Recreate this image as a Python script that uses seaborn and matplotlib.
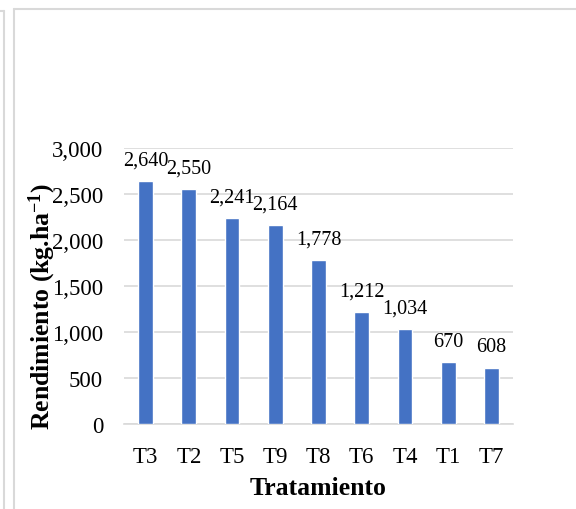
import matplotlib
matplotlib.use("Agg")
import matplotlib.pyplot as plt
import seaborn as sns
import pandas as pd
from matplotlib.lines import Line2D

tratamientos = ["T3", "T2", "T5", "T9", "T8", "T6", "T4", "T1", "T7"]
rendimiento = [2640, 2550, 2241, 2164, 1778, 1212, 1034, 670, 608]
yticks = [0, 500, 1000, 1500, 2000, 2500, 3000]

sns.set_theme(style="white")
plt.rcParams["font.family"] = ["Liberation Serif", "DejaVu Serif"]
plt.rcParams["text.color"] = "black"
plt.rcParams["axes.labelcolor"] = "black"
plt.rcParams["mathtext.fontset"] = "custom"
plt.rcParams["mathtext.rm"] = "Liberation Serif"
plt.rcParams["mathtext.bf"] = "Liberation Serif:bold"
plt.rcParams["mathtext.it"] = "Liberation Serif:italic"

df = pd.DataFrame({"Tratamiento": tratamientos, "Rendimiento": rendimiento})

fig = plt.figure(figsize=(5.76, 5.10), dpi=100)
ax = fig.add_axes([0.2153, 0.1667, 0.6753, 0.5412])

sns.barplot(data=df, x="Tratamiento", y="Rendimiento", order=tratamientos,
            color="#4472C4", saturation=1, width=0.34, ax=ax, zorder=3)

ax.set_ylim(0, 3000)
ax.set_xlim(-0.5, len(tratamientos) - 0.5)
ax.set_yticks(yticks)
ax.set_yticklabels([f"{v:,}" for v in yticks])
ax.yaxis.grid(True, color="#d9d9d9", linewidth=1.2, zorder=0)
ax.set_axisbelow(True)
for s in ["top", "right", "left"]:
    ax.spines[s].set_visible(False)
ax.spines["bottom"].set_color("#d9d9d9")
ax.spines["bottom"].set_linewidth(1.2)
ax.tick_params(axis="both", length=0, labelsize=16.5, colors="black")
ax.tick_params(axis="y", pad=15)
ax.tick_params(axis="x", pad=16)

for i, v in enumerate(rendimiento):
    ax.annotate(f"{v:,}", (i, v), xytext=(0, 12), textcoords="offset points",
                ha="center", va="baseline", fontsize=14.5, color="black")

ax.set_xlabel("Tratamiento", fontsize=18.5, fontweight="bold", labelpad=6)
ax.set_ylabel(r"Rendimiento (kg.ha$^{\mathbf{-1}}$)", fontsize=18.5, fontweight="bold")
ax.yaxis.set_label_coords(-0.17, 0.43)

# frame lines
W, H = 576, 510
c = "#d9d9d9"
def fx(x): return x / W
def fy(y): return 1 - y / H
fig.add_artist(Line2D([fx(13.5), fx(13.5)], [fy(9.5), 0], color=c, lw=1.5))
fig.add_artist(Line2D([fx(13.5), 1], [fy(9.5), fy(9.5)], color=c, lw=1.5))
fig.add_artist(Line2D([fx(3.5), fx(3.5)], [fy(11.5), 0], color=c, lw=1.5))
fig.add_artist(Line2D([0, fx(3.5)], [fy(11.5), fy(11.5)], color=c, lw=1.5))

fig.savefig("out.png", dpi=100)
